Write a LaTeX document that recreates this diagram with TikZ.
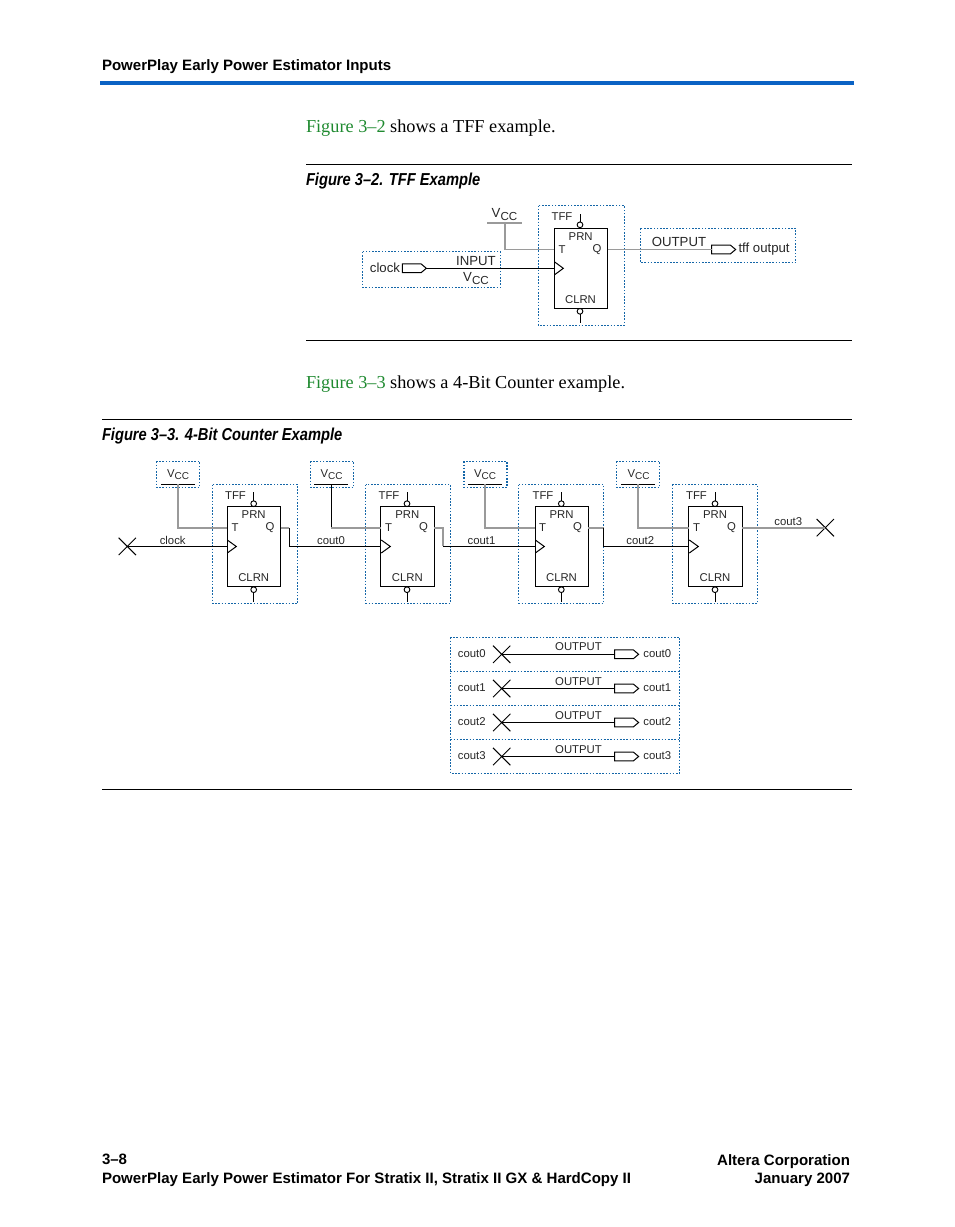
\documentclass[tikz,border=0pt]{standalone}
\usepackage{fontspec}
\setmainfont{Liberation Sans}
\newfontfamily\bodyfont{Liberation Serif}
\newfontfamily\capfont[FakeStretch=0.85]{Liberation Sans}
\usetikzlibrary{shapes.symbols,shapes.misc}
\definecolor{alterablue}{HTML}{0A62C4}
\definecolor{dotblue}{HTML}{1466A8}
\definecolor{linkgreen}{HTML}{1F8A30}
\definecolor{wiregray}{HTML}{9A9A9A}
\newcommand{\vcclab}{V\lower.35ex\hbox{\fontsize{0.88em}{1em}\selectfont CC}}
\tikzset{
  txt/.style={inner sep=0pt,outer sep=0pt,text=black!85,font=\fontsize{8.5pt}{10pt}\selectfont},
  bigtxt/.style={txt,font=\fontsize{9.9pt}{12pt}\selectfont},
  headtxt/.style={inner sep=0pt,outer sep=0pt,font=\fontsize{11.28pt}{13pt}\selectfont\bfseries},
  captxt/.style={inner sep=0pt,outer sep=0pt,anchor=west,font=\capfont\fontsize{12.95pt}{14pt}\selectfont\bfseries\itshape},
  paratxt/.style={inner sep=0pt,outer sep=0pt,anchor=base west,font=\bodyfont\fontsize{13.7pt}{15pt}\selectfont},
  rulewire/.style={line width=.6pt,black},
  wire/.style={line width=.75pt,black},
  graywire/.style={line width=1.25pt,wiregray},
  dotbox/.style={line width=.9pt,dotblue,dash pattern=on 1.2pt off 1.2pt},
  ffbox/.style={draw,line width=.75pt,minimum width=40pt,minimum height=60pt,inner sep=0pt,outer sep=0pt},
  bubble/.style={draw,circle,line width=.7pt,minimum size=4.3pt,inner sep=0pt,outer sep=0pt},
  pin/.style={draw,signal,signal to=east,signal pointer angle=80,line width=.75pt,minimum width=18pt,minimum height=6.6pt,inner sep=0pt,outer sep=0pt},
  xmark/.style={draw,cross out,line width=.75pt,minimum size=13pt,inner sep=0pt,outer sep=0pt}
}
\begin{document}
\begin{tikzpicture}[x=.75pt,y=-.75pt]
\useasboundingbox (0,0) rectangle (954,1227);

% page head
\node[headtxt,anchor=west] (headtitle) at (102,66.7) {PowerPlay Early Power Estimator Inputs};
\draw[line width=3pt,alterablue] (100,82.7) -- (854,82.7);
\node[paratxt] (paraa) at (306,133) {\textcolor{linkgreen}{Figure 3–2} shows a TFF example.};
\draw[rulewire] (306,164) -- (852,164);
\node[captxt] (capa) at (306,181) {Figure 3–2. TFF Example};
\draw[rulewire] (306,340.5) -- (852,340.5);
\node[paratxt] (parab) at (306,388) {\textcolor{linkgreen}{Figure 3–3} shows a 4-Bit Counter example.};
\draw[rulewire] (102,419.5) -- (852,419.5);
\node[captxt] (capb) at (102,436) {Figure 3–3. 4-Bit Counter Example};
\draw[rulewire] (102,789.5) -- (852,789.5);

% figure 3-2
\draw[dotbox] (538.3,205.5) rectangle (624.3,325.3);
\draw[dotbox] (362.7,251.7) rectangle (500.3,287.5);
\draw[dotbox] (640.3,228.3) rectangle (795.7,262.7);
\node[ffbox] (tff) at (581,268.3) {};
\node[bubble] (tffp) at (580,224.8) {};
\node[bubble] (tffc) at (580,311.3) {};
\draw[wire] (tffp.north) -- ++(0,-8);
\draw[wire] (tffc.south) -- ++(0,8.5);
\draw[wire] (554.3,261.7) -- (563.3,268.3) -- (554.3,275);
\node[txt] (tffname) at (562,217) {TFF};
\node[txt] (tffprn) at (580.7,236.5) {PRN};
\node[txt] (tffclrn) at (580.5,300) {CLRN};
\node[txt] (tfft) at (562,249.7) {T};
\node[txt] (tffq) at (597,249.7) {Q};
\coordinate (tfftin) at (554.3,249.5);
\coordinate (tffclk) at (554.3,268.3);
\coordinate (tffqout) at (607.7,249.5);
\coordinate (vccfoot) at (504.7,222.7);
\draw[graywire] (487.3,222.7) -- (521.7,222.7);
\node[bigtxt] (vcctop) at (504.5,214.5) {\vcclab};
\draw[graywire] (vccfoot) |- (tfftin);
\node[pin] (clockpin) at (411.7,268.3) {};
\node[bigtxt,anchor=east] (clocklab) at (400,268) {clock};
\node[bigtxt] (inputlab) at (476,261.5) {INPUT};
\node[bigtxt] (vccinput) at (476,278.5) {\vcclab};
\draw[wire] (clockpin.east) -- (tffclk);
\node[pin] (outpin) at (721,249.5) {};
\node[bigtxt] (outlab) at (679,242.3) {OUTPUT};
\node[bigtxt,anchor=west] (tffout) at (738.5,249) {tff output};
\draw[graywire] (tffqout) -- (outpin.west);

% figure 3-3, first stage
\draw[dotbox] (156.3,461.3) rectangle (199.7,487.3);
\draw[dotbox] (212.3,484.5) rectangle (297.7,603.3);
\node[ffbox] (ffa) at (254,546.7) {};
\node[bubble] (ffap) at (253.7,503.7) {};
\node[bubble] (ffac) at (253.7,589.7) {};
\draw[wire] (ffap.north) -- ++(0,-9);
\draw[wire] (ffac.south) -- ++(0,9);
\draw[wire] (227.3,540) -- (236.3,546.5) -- (227.3,553);
\node[txt] (ffaname) at (235.5,496) {TFF};
\node[txt] (ffaprn) at (253.7,515) {PRN};
\node[txt] (ffaclrn) at (253.7,577.7) {CLRN};
\node[txt] (ffat) at (235,528) {T};
\node[txt] (ffaq) at (270,528) {Q};
\coordinate (ffatin) at (227.3,527.7);
\coordinate (ffaclk) at (227.3,546.4);
\coordinate (ffaqout) at (280.7,527.7);
\node[txt] (vcca) at (178,475) {\vcclab};
\coordinate (vccafoot) at (177.7,484.3);
\draw[wire] (161,484.3) -- (195,484.3);
\draw[graywire] (vccafoot) |- (ffatin);
\node[xmark] (clockx) at (127.3,546.4) {};
\node[txt] (clocktxt) at (172.7,540.3) {clock};
\draw[wire] (clockx.center) -- (ffaclk);

% second stage
\draw[dotbox] (310.3,461.3) rectangle (353.7,487.3);
\draw[dotbox] (365.7,484.5) rectangle (450.3,603.3);
\node[ffbox] (ffb) at (407.6,546.7) {};
\node[bubble] (ffbp) at (407,503.7) {};
\node[bubble] (ffbc) at (407,589.7) {};
\draw[wire] (ffbp.north) -- ++(0,-9);
\draw[wire] (ffbc.south) -- ++(0,9);
\draw[wire] (381.3,540) -- (390.3,546.5) -- (381.3,553);
\node[txt] (ffbname) at (389,496) {TFF};
\node[txt] (ffbprn) at (407.3,515) {PRN};
\node[txt] (ffbclrn) at (407.3,577.7) {CLRN};
\node[txt] (ffbt) at (388.5,528) {T};
\node[txt] (ffbq) at (423.5,528) {Q};
\coordinate (ffbtin) at (381.3,527.7);
\coordinate (ffbclk) at (381.3,546.4);
\coordinate (ffbqout) at (434,527.7);
\node[txt] (vccb) at (331.5,475) {\vcclab};
\coordinate (vccbfoot) at (331,484.3);
\draw[wire] (314,484.3) -- (347.7,484.3);
\draw[wire] (vccbfoot) -- (331,527.7);
\draw[graywire] (331,527.7) -- (ffbtin);
\node[txt] (couta) at (331,540.3) {cout0};
\draw[graywire] (ffaqout) -- (289.3,527.7);
\draw[wire] (289.3,527.7) |- (ffbclk);

% third stage
\draw[dotbox] (464,461.3) rectangle (507,487.3);
\draw[dotbox] (518.7,484.5) rectangle (603.7,603.3);
\node[ffbox] (ffc) at (561.8,546.7) {};
\node[bubble] (ffcp) at (561.3,503.7) {};
\node[bubble] (ffcc) at (561.3,589.7) {};
\draw[wire] (ffcp.north) -- ++(0,-9);
\draw[wire] (ffcc.south) -- ++(0,9);
\draw[wire] (535.3,540) -- (544.3,546.5) -- (535.3,553);
\node[txt] (ffcname) at (543,496) {TFF};
\node[txt] (ffcprn) at (561.5,515) {PRN};
\node[txt] (ffcclrn) at (561.5,577.7) {CLRN};
\node[txt] (ffct) at (542.5,528) {T};
\node[txt] (ffcq) at (577.5,528) {Q};
\coordinate (ffctin) at (535.3,527.7);
\coordinate (ffcclk) at (535.3,546.4);
\coordinate (ffcqout) at (588.3,527.7);
\node[txt] (vccc) at (485,475) {\vcclab};
\coordinate (vcccfoot) at (484.7,484.3);
\draw[wire] (468,484.3) -- (501.7,484.3);
\draw[graywire] (vcccfoot) |- (ffctin);
\node[txt] (coutb) at (481.5,540.3) {cout1};
\draw[graywire] (ffbqout) -- (443,527.7) -- (443,546.4);
\draw[wire] (443,546.4) -- (ffcclk);

% fourth stage
\draw[dotbox] (616.3,461.3) rectangle (659.7,487.3);
\draw[dotbox] (672.3,484.5) rectangle (757.3,603.3);
\node[ffbox] (ffd) at (715.5,546.7) {};
\node[bubble] (ffdp) at (715,503.7) {};
\node[bubble] (ffdc) at (715,589.7) {};
\draw[wire] (ffdp.north) -- ++(0,-9);
\draw[wire] (ffdc.south) -- ++(0,9);
\draw[wire] (689.3,540) -- (698.3,546.5) -- (689.3,553);
\node[txt] (ffdname) at (696.5,496) {TFF};
\node[txt] (ffdprn) at (715,515) {PRN};
\node[txt] (ffdclrn) at (715,577.7) {CLRN};
\node[txt] (ffdt) at (696.5,528) {T};
\node[txt] (ffdq) at (731.5,528) {Q};
\coordinate (ffdtin) at (689.3,527.7);
\coordinate (ffdclk) at (689.3,546.4);
\coordinate (ffdqout) at (741.7,527.7);
\node[txt] (vccd) at (638.5,475) {\vcclab};
\coordinate (vccdfoot) at (637.7,484.3);
\draw[wire] (621,484.3) -- (655,484.3);
\draw[graywire] (vccdfoot) |- (ffdtin);
\node[txt] (coutc) at (640.3,540.3) {cout2};
\draw[graywire] (ffcqout) -- (603.5,527.7);
\draw[wire] (603.5,527.7) |- (ffdclk);
\node[xmark] (coutx) at (825.3,527.7) {};
\node[txt] (coutd) at (788.3,521.3) {cout3};
\draw[graywire] (ffdqout) -- (coutx.center);

% output table
\draw[dotbox] (450.3,637.3) rectangle (679.7,773.3);
\draw[dotbox] (450.3,671.3) -- (679.7,671.3);
\draw[dotbox] (450.3,705.3) -- (679.7,705.3);
\draw[dotbox] (450.3,739.3) -- (679.7,739.3);

\node[txt] (rowal) at (471.7,653.5) {cout0};
\node[xmark] (rowax) at (501.7,654.3) {};
\node[pin] (rowap) at (624,654.3) {};
\node[txt] (rowao) at (578.5,647) {OUTPUT};
\node[txt] (rowar) at (657.3,653.5) {cout0};
\draw[wire] (rowax.center) -- (rowap.west);

\node[txt] (rowbl) at (471.7,687.5) {cout1};
\node[xmark] (rowbx) at (501.7,688.5) {};
\node[pin] (rowbp) at (624,688.5) {};
\node[txt] (rowbo) at (578.5,681.5) {OUTPUT};
\node[txt] (rowbr) at (657.3,687.5) {cout1};
\draw[wire] (rowbx.center) -- (rowbp.west);

\node[txt] (rowcl) at (471.7,721.5) {cout2};
\node[xmark] (rowcx) at (501.7,722.5) {};
\node[pin] (rowcp) at (624,722.5) {};
\node[txt] (rowco) at (578.5,715.5) {OUTPUT};
\node[txt] (rowcr) at (657.3,721.5) {cout2};
\draw[wire] (rowcx.center) -- (rowcp.west);

\node[txt] (rowdl) at (471.7,755.5) {cout3};
\node[xmark] (rowdx) at (501.7,756.5) {};
\node[pin] (rowdp) at (624,756.5) {};
\node[txt] (rowdo) at (578.5,749.5) {OUTPUT};
\node[txt] (rowdr) at (657.3,755.5) {cout3};
\draw[wire] (rowdx.center) -- (rowdp.west);

% page foot
\node[headtxt,anchor=west] (footpage) at (102,1159.5) {3–8};
\node[headtxt,anchor=west] (foottitle) at (102,1180) {PowerPlay Early Power Estimator For Stratix II, Stratix II GX \& HardCopy II};
\node[headtxt,anchor=east] (footcorp) at (850,1161.5) {Altera Corporation};
\node[headtxt,anchor=east] (footdate) at (850,1180) {January 2007};
\end{tikzpicture}
\end{document}
